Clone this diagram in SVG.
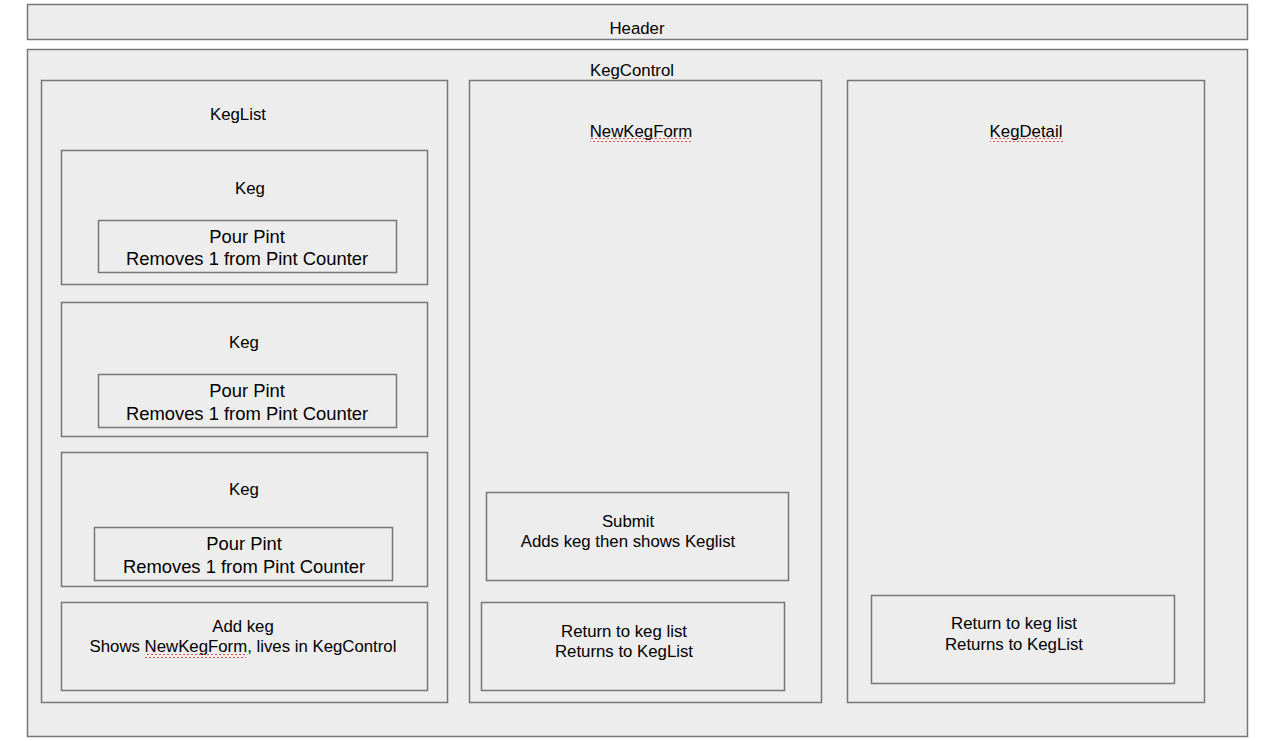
<svg xmlns="http://www.w3.org/2000/svg" width="1278" height="741" viewBox="0 0 1278 741">
<defs>
<style>
.box{fill:#ededed;stroke:#777;stroke-width:1.5}
.t{font-family:"Liberation Sans",Arial,sans-serif;font-size:16.8px;fill:#000;text-anchor:middle}
.b{font-size:18.4px}
.sq{fill:none;stroke:#e0403c;stroke-width:0.9}
</style>
<pattern id="wave" width="4" height="4" patternUnits="userSpaceOnUse"><path d="M0 3 L2 1 L4 3" class="sq"/></pattern>
</defs>
<rect width="1278" height="741" fill="#ffffff"/>
<g id="header">
<rect class="box" x="27.5" y="4.5" width="1220" height="35"/>
<text class="t" x="637" y="34">Header</text>
</g>
<g id="kegcontrol">
<rect class="box" x="27.5" y="49.5" width="1220" height="687"/>
<text class="t" x="632" y="76">KegControl</text>
</g>
<g id="keglist">
<rect class="box" x="41.5" y="80.5" width="406" height="622"/>
<text class="t" x="238" y="120">KegList</text>
</g>
<g id="keg1">
<rect class="box" x="61.5" y="150.5" width="366" height="134"/>
<text class="t" x="250" y="194">Keg</text>
<rect class="box" x="98.5" y="220.5" width="298" height="52"/>
<text class="t b" x="247" y="243">Pour Pint</text>
<text class="t b" x="247" y="265">Removes 1 from Pint Counter</text>
</g>
<g id="keg2">
<rect class="box" x="61.5" y="302.5" width="366" height="134"/>
<text class="t" x="244" y="348">Keg</text>
<rect class="box" x="98.5" y="374.5" width="298" height="53"/>
<text class="t b" x="247" y="397">Pour Pint</text>
<text class="t b" x="247" y="420">Removes 1 from Pint Counter</text>
</g>
<g id="keg3">
<rect class="box" x="61.5" y="452.5" width="366" height="134"/>
<text class="t" x="244" y="495">Keg</text>
<rect class="box" x="94.5" y="527.5" width="298" height="53"/>
<text class="t b" x="244" y="550">Pour Pint</text>
<text class="t b" x="244" y="573">Removes 1 from Pint Counter</text>
</g>
<g id="addkeg">
<rect class="box" x="61.5" y="602.5" width="366" height="88"/>
<text class="t" x="243" y="632">Add keg</text>
<text class="t" x="243" y="652">Shows NewKegForm, lives in KegControl</text>
<rect x="145" y="654" width="101" height="4" fill="url(#wave)"/>
</g>
<g id="newkegform">
<rect class="box" x="469.5" y="80.5" width="352" height="622"/>
<text class="t" x="641" y="137">NewKegForm</text>
<rect x="590" y="138" width="101" height="4" fill="url(#wave)"/>
</g>
<g id="submit">
<rect class="box" x="486.5" y="492.5" width="302" height="88"/>
<text class="t" x="628" y="527">Submit</text>
<text class="t" x="628" y="547">Adds keg then shows Keglist</text>
</g>
<g id="return1">
<rect class="box" x="481.5" y="602.5" width="303" height="88"/>
<text class="t" x="624" y="637">Return to keg list</text>
<text class="t" x="624" y="657">Returns to KegList</text>
</g>
<g id="kegdetail">
<rect class="box" x="847.5" y="80.5" width="357" height="622"/>
<text class="t" x="1026" y="137">KegDetail</text>
<rect x="990" y="138" width="73" height="4" fill="url(#wave)"/>
</g>
<g id="return2">
<rect class="box" x="871.5" y="595.5" width="303" height="88"/>
<text class="t" x="1014" y="629">Return to keg list</text>
<text class="t" x="1014" y="650">Returns to KegList</text>
</g>
<g id="connectors"></g>
</svg>
